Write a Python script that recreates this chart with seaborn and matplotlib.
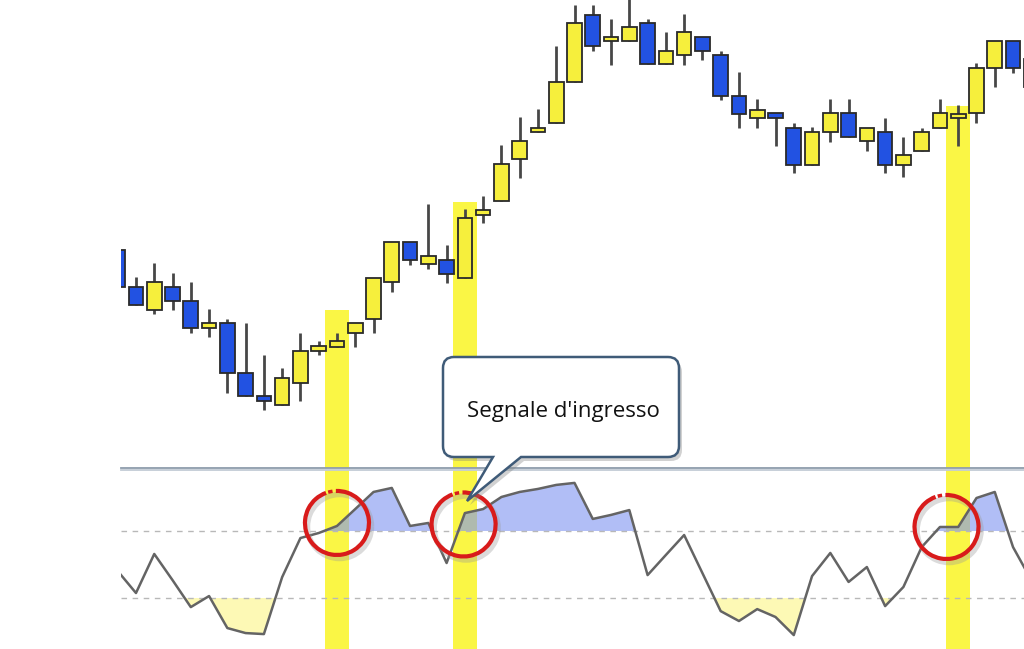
import matplotlib
matplotlib.use("Agg")
import matplotlib.pyplot as plt
import matplotlib.patches as mpatches
import matplotlib.transforms as mtransforms
from matplotlib.path import Path
import numpy as np
import pandas as pd
import seaborn as sns

# Candle data (price points), one entry per bar.
opens = [400, 363, 340, 363, 349, 322, 327, 277, 254, 245, 267, 299, 303, 317, 331, 368, 408,
         386, 390, 372, 435, 449, 491, 518, 527, 568, 635, 609, 609, 627, 586, 595, 613, 595,
         554, 532, 537, 522, 485, 518, 537, 509, 518, 485, 499, 522, 532, 537, 582, 609, 591]
highs = [400, 373, 387, 377, 368, 341, 331, 327, 295, 282, 317, 309, 317, 327, 372, 408, 408,
         446, 405, 441, 454, 505, 533, 541, 604, 645, 645, 631, 655, 631, 618, 636, 613, 599,
         578, 551, 537, 527, 523, 551, 551, 522, 532, 513, 522, 551, 545, 587, 609, 609, 591]
lows = [363, 345, 336, 340, 317, 313, 257, 254, 240, 245, 249, 295, 303, 303, 317, 358, 385,
        381, 367, 372, 427, 449, 472, 518, 527, 568, 599, 585, 609, 586, 586, 585, 590, 550,
        522, 522, 504, 477, 485, 508, 513, 499, 477, 473, 499, 522, 504, 527, 563, 577, 563]
closes = [363, 345, 368, 349, 322, 327, 277, 254, 249, 272, 299, 304, 309, 327, 372, 408, 390,
          394, 376, 432, 440, 486, 509, 522, 568, 627, 604, 613, 623, 586, 599, 618, 599, 554,
          536, 540, 532, 485, 518, 537, 513, 522, 485, 495, 518, 537, 536, 582, 609, 582, 563]

# Oscillator (0-100) with its two levels
osc = [46.1, 33.0, 56.3, 40.7, 24.6, 31.2, 12.1, 9.1, 8.5, 42.5, 65.8, 68.8, 73.0, 83.1, 93.3,
       95.7, 73.0, 74.8, 50.9, 80.7, 83.1, 90.3, 93.3, 95.1, 97.5, 98.7, 77.2, 79.6, 82.5, 43.7,
       55.7, 67.6, 44.9, 22.2, 16.3, 23.4, 18.7, 7.9, 43.1, 56.9, 39.6, 48.5, 25.2, 36.6, 60.4,
       72.4, 72.4, 89.7, 93.3, 60.4, 40.7]
upper_level = 70
lower_level = 30

# Entry signals: bar index, top of the highlight (price), circle centre (bar, osc)
signal_bars = [12, 19, 46]
signal_band_top = [340, 448, 544]
circle_x = [12.0, 18.93, 45.36]
circle_y = [74.8, 73.9, 72.4]
callout_text = "Segnale d'ingresso"

W, H = 1024, 649
sns.set_style("white")
plt.rcParams['font.family'] = ['Open Sans', 'DejaVu Sans']

fig = plt.figure(figsize=(W / 100, H / 100), dpi=100)
fig.patch.set_facecolor("white")
ax = fig.add_axes([121 / W, 1 - 468 / H, (W - 121) / W, 468 / H])
ax2 = fig.add_axes([121 / W, 0, (W - 121) / W, (H - 470) / H])

band_color = "#faf645"
yellow = "#f6ef3c"
blue = "#2252e2"
price_lo, price_hi = 182, 650
x_lo, x_hi = 0.18, 49.6

df = pd.DataFrame({"open": opens, "high": highs, "low": lows, "close": closes, "osc": osc})
df["bar"] = np.arange(len(df))
df["up"] = df["close"] >= df["open"]

# --- price panel ---
ax.bar(signal_bars, [t - price_lo for t in signal_band_top], bottom=price_lo, width=1.3,
       color=band_color, zorder=1, linewidth=0)
ax.vlines(df["bar"], df["low"], df["high"], color="#474747", linewidth=2, zorder=2)
body_lo = df[["open", "close"]].min(axis=1)
body_h = (df["close"] - df["open"]).abs().clip(lower=3)
ax.bar(df["bar"], body_h, bottom=body_lo, width=0.8,
       color=[yellow if u else blue for u in df["up"]],
       edgecolor="#2a2a2a", linewidth=1.3, zorder=3)
ax.set_xlim(x_lo, x_hi)
ax.set_ylim(price_lo, price_hi)

# --- oscillator panel ---
for b in signal_bars:
    ax2.axvspan(b - 0.65, b + 0.65, color=band_color, zorder=1, linewidth=0)
ax2.fill_between(df["bar"], df["osc"], upper_level, where=df["osc"] >= upper_level,
                 interpolate=True, color="#8196f2", alpha=0.62, linewidth=0, zorder=2)
ax2.fill_between(df["bar"], df["osc"], lower_level, where=df["osc"] <= lower_level,
                 interpolate=True, color="#fdf8a8", alpha=0.85, linewidth=0, zorder=2)
for lvl in (upper_level, lower_level):
    ax2.axhline(lvl, color="#b8b8b8", linewidth=1, linestyle=(0, (4, 4)), zorder=2)
sns.lineplot(data=df, x="bar", y="osc", ax=ax2, color="#646464", linewidth=1.8, zorder=4)
ax2.set_xlim(x_lo, x_hi)
ax2.set_ylim(-0.4, 106.4)

for a in (ax, ax2):
    a.set_xticks([])
    a.set_yticks([])
    a.set_xlabel("")
    a.set_ylabel("")
    for s in a.spines.values():
        s.set_visible(False)
ax.spines["bottom"].set_visible(True)
ax.spines["bottom"].set_color("#8e9cab")
ax.spines["bottom"].set_linewidth(1.3)
ax2.spines["top"].set_visible(True)
ax2.spines["top"].set_color("#c3ccd6")
ax2.spines["top"].set_linewidth(1.3)

# red circles around the crossings
for cx, cy in zip(circle_x, circle_y):
    base = mtransforms.ScaledTranslation(cx, cy, ax2.transData)
    shadow = fig.dpi_scale_trans + mtransforms.ScaledTranslation(0.025, -0.035, fig.dpi_scale_trans) + base
    trans = fig.dpi_scale_trans + base
    ax2.add_patch(mpatches.Arc((0, 0), 0.64, 0.64, theta1=0, theta2=360, color="#9a9a9a",
                               alpha=0.35, linewidth=4, transform=shadow, zorder=5, clip_on=False))
    ax2.add_patch(mpatches.Arc((0, 0), 0.64, 0.64, theta1=110, theta2=452, color="#d81b1b",
                               linewidth=3, transform=trans, zorder=6, clip_on=False))
    ax2.add_patch(mpatches.Arc((0, 0), 0.64, 0.64, theta1=98, theta2=106, color="#d81b1b",
                               linewidth=2.5, transform=trans, zorder=6, clip_on=False))

# callout bubble (figure pixels, top-left origin)
def callout_path(x0, y0, x1, y1, r, tx0, tx1, tip, dx=0, dy=0):
    pts = [(x0 + r, y0), (x1 - r, y0), (x1, y0), (x1, y0 + r), (x1, y1 - r), (x1, y1),
           (x1 - r, y1), (tx1, y1), tip, (tx0, y1), (x0 + r, y1), (x0, y1), (x0, y1 - r),
           (x0, y0 + r), (x0, y0), (x0 + r, y0), (x0 + r, y0)]
    codes = [Path.MOVETO, Path.LINETO, Path.CURVE3, Path.CURVE3, Path.LINETO, Path.CURVE3,
             Path.CURVE3, Path.LINETO, Path.LINETO, Path.LINETO, Path.LINETO, Path.CURVE3,
             Path.CURVE3, Path.LINETO, Path.CURVE3, Path.CURVE3, Path.CLOSEPOLY]
    verts = [((x + dx) / W, 1 - (y + dy) / H) for x, y in pts]
    return Path(verts, codes)

shadow_p = callout_path(443, 357, 679, 457, 11, 493, 521, (467, 501), dx=3, dy=4)
fig.add_artist(mpatches.PathPatch(shadow_p, facecolor="#7d7d7d", alpha=0.35, edgecolor="none",
                                  transform=fig.transFigure, zorder=7))
bubble_p = callout_path(443, 357, 679, 457, 11, 493, 521, (467, 501))
fig.add_artist(mpatches.PathPatch(bubble_p, facecolor="white", edgecolor="#3f5b78", linewidth=1.8,
                                  transform=fig.transFigure, zorder=8))
fig.text(563 / W, 1 - 411 / H, callout_text, ha="center", va="center", fontsize=16,
         color="#111111", zorder=9)

fig.savefig("out.png", dpi=100, facecolor="white")
